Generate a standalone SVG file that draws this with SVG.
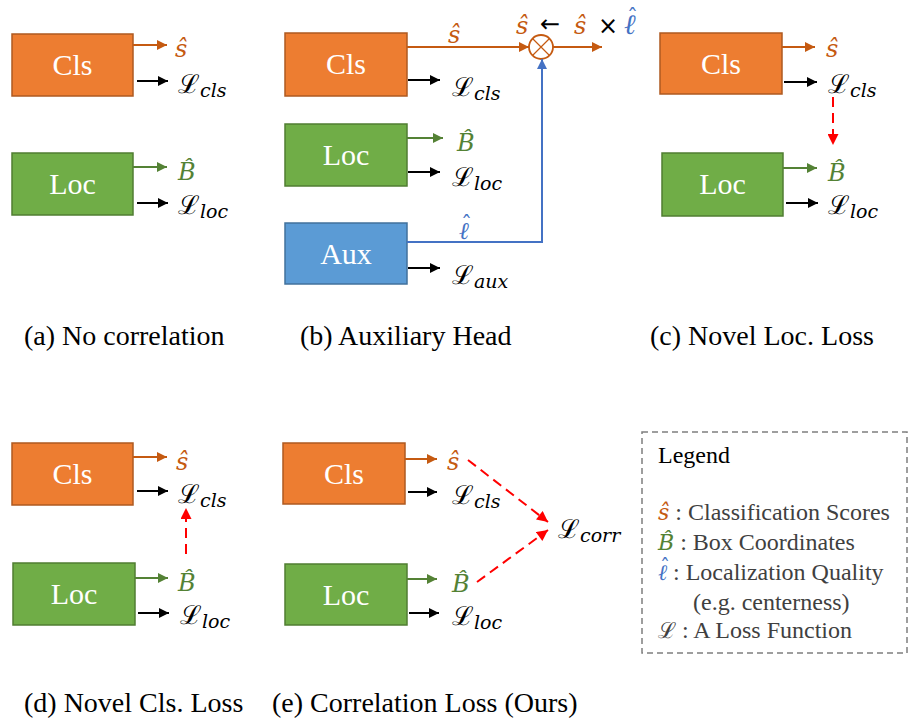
<svg xmlns="http://www.w3.org/2000/svg" width="908" height="722" viewBox="0 0 908 722">
<defs>
<style>
.bg{fill:#ffffff}
.cls{fill:#ED7D31;stroke:#AE5A21;stroke-width:1.5}
.loc{fill:#70AD47;stroke:#507E32;stroke-width:1.5}
.aux{fill:#5B9BD5;stroke:#41719C;stroke-width:1.5}
.bt{font-family:"Liberation Serif","Times New Roman",serif;font-size:30px;fill:#ffffff;text-anchor:middle}
.m{font-family:"DejaVu Serif",serif;font-style:italic;font-size:24px}
.hat{font-family:"DejaVu Serif",serif;font-style:normal;font-size:22px}
.L{font-family:"DejaVu Serif",serif;font-style:normal;font-size:26px;fill:#000}
.sub{font-family:"DejaVu Serif",serif;font-style:italic;font-size:19px}
.os{fill:#C55A11}
.gs{fill:#548235}
.bs{fill:#4472C4}
.ao{stroke:#C55A11;stroke-width:2;fill:none}
.ag{stroke:#548235;stroke-width:2;fill:none}
.ak{stroke:#000;stroke-width:2;fill:none}
.ab{stroke:#4472C4;stroke-width:2;fill:none}
.ar{stroke:#FF0000;stroke-width:2;fill:none;stroke-dasharray:10 6}
.cap{font-family:"Liberation Serif","Times New Roman",serif;font-size:28px;fill:#000}
.lg{font-family:"Liberation Serif","Times New Roman",serif;font-size:24px;fill:#404040}
.op{font-family:"DejaVu Sans",sans-serif;font-size:24px;fill:#000}
</style>
<marker id="mo" viewBox="0 0 10 10" refX="10" refY="5" markerWidth="11" markerHeight="10" markerUnits="userSpaceOnUse" orient="auto"><path d="M0,0L10,5L0,10z" fill="#C55A11"/></marker>
<marker id="mg" viewBox="0 0 10 10" refX="10" refY="5" markerWidth="11" markerHeight="10" markerUnits="userSpaceOnUse" orient="auto"><path d="M0,0L10,5L0,10z" fill="#548235"/></marker>
<marker id="mk" viewBox="0 0 10 10" refX="10" refY="5" markerWidth="11" markerHeight="10" markerUnits="userSpaceOnUse" orient="auto"><path d="M0,0L10,5L0,10z" fill="#000"/></marker>
<marker id="mb" viewBox="0 0 10 10" refX="10" refY="5" markerWidth="11" markerHeight="10" markerUnits="userSpaceOnUse" orient="auto"><path d="M0,0L10,5L0,10z" fill="#4472C4"/></marker>
<marker id="mr" viewBox="0 0 10 10" refX="10" refY="5" markerWidth="12" markerHeight="11" markerUnits="userSpaceOnUse" orient="auto"><path d="M0,0L10,5L0,10z" fill="#FF0000"/></marker>
</defs>
<rect class="bg" x="0" y="0" width="908" height="722"/>

<!-- Panel (a) -->
<g id="a-cls"><rect class="cls" x="12" y="34" width="121" height="62"/><text class="bt" x="72.5" y="75">Cls</text></g>
<g id="a-loc"><rect class="loc" x="12" y="153" width="121" height="62"/><text class="bt" x="72.5" y="194">Loc</text></g>
<g id="a-labels">
<text class="m os" x="175" y="57">ŝ</text>
<text x="178" y="93"><tspan class="L">ℒ</tspan><tspan class="sub" dy="4">cls</tspan></text>
<text class="m gs" x="178" y="180">B̂</text>
<text x="178" y="214"><tspan class="L">ℒ</tspan><tspan class="sub" dy="4">loc</tspan></text>
</g>

<!-- Panel (b) -->
<g id="b-cls"><rect class="cls" x="285" y="33" width="122" height="63"/><text class="bt" x="346" y="74">Cls</text></g>
<g id="b-loc"><rect class="loc" x="285" y="124" width="122" height="62"/><text class="bt" x="346" y="165">Loc</text></g>
<g id="b-aux"><rect class="aux" x="285" y="223" width="122" height="61"/><text class="bt" x="346" y="264">Aux</text></g>
<g id="b-mult"><circle cx="541" cy="47" r="12" fill="#fff" stroke="#C55A11" stroke-width="1.8"/><path d="M532.5,38.5L549.5,55.5M549.5,38.5L532.5,55.5" stroke="#C55A11" stroke-width="1.2"/></g>
<g id="b-labels">
<text class="m os" x="448" y="43">ŝ</text>
<text class="m os" x="516" y="34">ŝ</text>
<text class="op" x="540" y="32" font-size="26">←</text>
<text class="m os" x="574" y="34">ŝ</text>
<text class="op" x="598" y="34">×</text>
<text class="bs" x="624" y="34"><tspan class="m" style="font-size:28px">ℓ</tspan><tspan class="hat" x="627" y="25">ˆ</tspan></text>
<text x="452" y="96"><tspan class="L">ℒ</tspan><tspan class="sub" dy="4">cls</tspan></text>
<text class="m gs" x="457" y="151">B̂</text>
<text x="452" y="186"><tspan class="L">ℒ</tspan><tspan class="sub" dy="4">loc</tspan></text>
<text class="bs" x="459" y="239"><tspan class="m">ℓ</tspan><tspan class="hat" x="461" y="232">ˆ</tspan></text>
<text x="452" y="284"><tspan class="L">ℒ</tspan><tspan class="sub" dy="4">aux</tspan></text>
</g>

<!-- Panel (c) -->
<g id="c-cls"><rect class="cls" x="660" y="33" width="122" height="61"/><text class="bt" x="721" y="74">Cls</text></g>
<g id="c-loc"><rect class="loc" x="662" y="153" width="121" height="63"/><text class="bt" x="722.5" y="194">Loc</text></g>
<g id="c-labels">
<text class="m os" x="826" y="57">ŝ</text>
<text x="828" y="93"><tspan class="L">ℒ</tspan><tspan class="sub" dy="4">cls</tspan></text>
<text class="m gs" x="828" y="181">B̂</text>
<text x="828" y="214"><tspan class="L">ℒ</tspan><tspan class="sub" dy="4">loc</tspan></text>
</g>

<!-- Panel (d) -->
<g id="d-cls"><rect class="cls" x="12" y="443" width="121" height="62"/><text class="bt" x="72.5" y="484">Cls</text></g>
<g id="d-loc"><rect class="loc" x="13" y="563" width="122" height="62"/><text class="bt" x="74" y="604">Loc</text></g>
<g id="d-labels">
<text class="m os" x="176" y="470">ŝ</text>
<text x="178" y="503"><tspan class="L">ℒ</tspan><tspan class="sub" dy="4">cls</tspan></text>
<text class="m gs" x="178" y="591">B̂</text>
<text x="180" y="624"><tspan class="L">ℒ</tspan><tspan class="sub" dy="4">loc</tspan></text>
</g>

<!-- Panel (e) -->
<g id="e-cls"><rect class="cls" x="283" y="443" width="122" height="61"/><text class="bt" x="344" y="484">Cls</text></g>
<g id="e-loc"><rect class="loc" x="285" y="564" width="122" height="61"/><text class="bt" x="346" y="605">Loc</text></g>
<g id="e-labels">
<text class="m os" x="447" y="470">ŝ</text>
<text x="452" y="504"><tspan class="L">ℒ</tspan><tspan class="sub" dy="4">cls</tspan></text>
<text class="m gs" x="452" y="592">B̂</text>
<text x="452" y="625"><tspan class="L">ℒ</tspan><tspan class="sub" dy="4">loc</tspan></text>
<text x="558" y="538"><tspan class="L">ℒ</tspan><tspan class="sub" dy="4">corr</tspan></text>
</g>

<!-- Connectors -->
<g id="connectors">
<line class="ao" x1="133" y1="45" x2="167" y2="45" marker-end="url(#mo)"/>
<line class="ak" x1="137" y1="81" x2="168" y2="81" marker-end="url(#mk)"/>
<line class="ag" x1="133" y1="167" x2="167" y2="167" marker-end="url(#mg)"/>
<line class="ak" x1="137" y1="203" x2="168" y2="203" marker-end="url(#mk)"/>
<line class="ao" x1="407" y1="47" x2="529" y2="47" marker-end="url(#mo)"/>
<line class="ao" x1="553" y1="47" x2="602" y2="47" marker-end="url(#mo)"/>
<line class="ak" x1="408" y1="80" x2="440" y2="80" marker-end="url(#mk)"/>
<line class="ag" x1="407" y1="138" x2="443" y2="138" marker-end="url(#mg)"/>
<line class="ak" x1="408" y1="172" x2="440" y2="172" marker-end="url(#mk)"/>
<polyline class="ab" points="407,242 542,242 542,59" marker-end="url(#mb)"/>
<line class="ak" x1="408" y1="268" x2="440" y2="268" marker-end="url(#mk)"/>
<line class="ao" x1="782" y1="47" x2="815" y2="47" marker-end="url(#mo)"/>
<line class="ak" x1="784" y1="82" x2="817" y2="82" marker-end="url(#mk)"/>
<line class="ar" x1="833" y1="97" x2="833" y2="145" marker-end="url(#mr)"/>
<line class="ag" x1="783" y1="168" x2="817" y2="168" marker-end="url(#mg)"/>
<line class="ak" x1="786" y1="203" x2="818" y2="203" marker-end="url(#mk)"/>
<line class="ao" x1="133" y1="457" x2="167" y2="457" marker-end="url(#mo)"/>
<line class="ak" x1="137" y1="491" x2="168" y2="491" marker-end="url(#mk)"/>
<line class="ar" x1="186" y1="554" x2="186" y2="508" marker-end="url(#mr)"/>
<line class="ag" x1="135" y1="578" x2="168" y2="578" marker-end="url(#mg)"/>
<line class="ak" x1="138" y1="613" x2="169" y2="613" marker-end="url(#mk)"/>
<line class="ao" x1="405" y1="459" x2="437" y2="459" marker-end="url(#mo)"/>
<line class="ak" x1="408" y1="492" x2="437" y2="492" marker-end="url(#mk)"/>
<line class="ag" x1="407" y1="579" x2="437" y2="579" marker-end="url(#mg)"/>
<line class="ak" x1="409" y1="613" x2="439" y2="613" marker-end="url(#mk)"/>
<line class="ar" x1="468" y1="460" x2="548" y2="522" marker-end="url(#mr)"/>
<line class="ar" x1="477" y1="582" x2="548" y2="530" marker-end="url(#mr)"/>
</g>

<!-- Legend -->
<g id="legend">
<rect x="642" y="432" width="265" height="221" fill="none" stroke="#7F7F7F" stroke-width="1.5" stroke-dasharray="6 4"/>
<text class="lg" x="658" y="463" style="fill:#000">Legend</text>
<text class="lg" x="658" y="520"><tspan class="m os" style="font-size:22px">ŝ</tspan> : Classification Scores</text>
<text class="lg" x="658" y="550"><tspan class="m gs" style="font-size:22px">B̂</tspan> : Box Coordinates</text>
<text class="lg" x="658" y="580"><tspan class="m bs" style="font-size:22px">ℓ</tspan><tspan class="hat bs" x="660" y="574" style="font-size:20px">ˆ</tspan><tspan x="673" y="580">: Localization Quality</tspan></text>
<text class="lg" x="693" y="610">(e.g. centerness)</text>
<text class="lg" x="658" y="638"><tspan class="L" style="font-size:22px;fill:#404040">ℒ</tspan> : A Loss Function</text>
</g>

<!-- Captions -->
<g id="captions">
<text class="cap" x="24" y="345">(a) No correlation</text>
<text class="cap" x="300" y="345">(b) Auxiliary Head</text>
<text class="cap" x="650" y="345">(c) Novel Loc. Loss</text>
<text class="cap" x="24" y="712">(d) Novel Cls. Loss</text>
<text class="cap" x="272" y="712">(e) Correlation Loss (Ours)</text>
</g>
</svg>
